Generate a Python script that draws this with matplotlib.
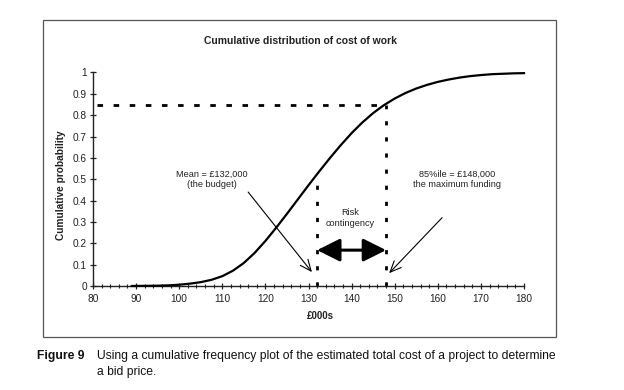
import matplotlib
matplotlib.use("Agg")
import matplotlib.pyplot as plt
from matplotlib.patches import Rectangle
from matplotlib.ticker import MultipleLocator

plt.rcParams['font.family'] = ['Liberation Sans', 'DejaVu Sans']

# Data
cost = [89, 95, 97.5, 100, 102.5, 105, 107.5, 110, 112.5, 115, 117.5, 120, 122.5,
        125, 127.5, 130, 132.5, 135, 137.5, 140, 142.5, 145, 147.5, 150, 152.5,
        155, 157.5, 160, 162.5, 165, 167.5, 170, 172.5, 175, 177.5, 180]
prob = [0.0, 0.0015, 0.003, 0.006, 0.011, 0.018, 0.029, 0.046, 0.072, 0.108, 0.155,
        0.211, 0.273, 0.338, 0.405, 0.472, 0.537, 0.600, 0.660, 0.716, 0.766, 0.810,
        0.847, 0.878, 0.904, 0.925, 0.942, 0.956, 0.967, 0.976, 0.983, 0.988, 0.992,
        0.994, 0.996, 0.997]
mean_cost = 132
p85_cost = 148
p85 = 0.85
mean_prob = 0.52
xticks = [80, 90, 100, 110, 120, 130, 140, 150, 160, 170, 180]
yticks = [0, 0.1, 0.2, 0.3, 0.4, 0.5, 0.6, 0.7, 0.8, 0.9, 1]
yticklabels = ['0', '0.1', '0.2', '0.3', '0.4', '0.5', '0.6', '0.7', '0.8', '0.9', '1']

W, H = 624, 390
fig = plt.figure(figsize=(W / 100, H / 100), dpi=100)
fig.patch.set_facecolor('white')

# outer frame
fig.patches.append(Rectangle((43 / W, 1 - 337 / H), (556 - 43) / W, (337 - 20) / H,
                             transform=fig.transFigure, fill=False,
                             edgecolor='#555555', linewidth=0.9))

ax = fig.add_axes([93 / W, 1 - 286 / H, (524 - 93) / W, (286 - 72.5) / H])
ax.set_xlim(80, 180)
ax.set_ylim(0, 1)
for s in ['top', 'right']:
    ax.spines[s].set_visible(False)
for s in ['left', 'bottom']:
    ax.spines[s].set_linewidth(1.0)
    ax.spines[s].set_color('#222222')

ax.set_xticks(xticks)
ax.set_xticklabels([str(t) for t in xticks])
ax.set_yticks(yticks)
ax.set_yticklabels(yticklabels)
ax.xaxis.set_minor_locator(MultipleLocator(2))
ax.tick_params(axis='both', which='major', direction='inout', length=5, width=0.9,
               labelsize=7.3, colors='#222222', pad=2)
ax.tick_params(axis='x', which='minor', direction='inout', length=3, width=0.8,
               colors='#222222')
ax.tick_params(axis='x', which='major', pad=3)

# curve
ax.plot(cost, prob, color='black', linewidth=1.6, clip_on=False, zorder=3)

# dashed guide lines
ax.plot([81, p85_cost], [p85, p85], color='black', linewidth=2,
        linestyle=(0, (2, 3.8)), dash_capstyle='butt')
ax.plot([p85_cost, p85_cost], [0, p85], color='black', linewidth=2,
        linestyle=(0, (1.5, 4.3)), dash_capstyle='butt')
ax.plot([mean_cost, mean_cost], [0, mean_prob], color='black', linewidth=2,
        linestyle=(0, (1.5, 4.3)), dash_capstyle='butt')

# annotations
ax.annotate('', xy=(130.8, 0.065), xytext=(116.0, 0.44),
            arrowprops=dict(arrowstyle='->,head_length=0.8,head_width=0.35',
                            color='black', linewidth=0.8, shrinkA=0, shrinkB=0))
ax.text(107.6, 0.50, 'Mean = £132,000\n(the budget)', ha='center', va='center',
        fontsize=6.6, linespacing=1.25, color='#222222')

ax.annotate('', xy=(148.7, 0.06), xytext=(161.0, 0.32),
            arrowprops=dict(arrowstyle='->,head_length=0.8,head_width=0.35',
                            color='black', linewidth=0.8, shrinkA=0, shrinkB=0))
ax.text(164.5, 0.50, '85%ile = £148,000\nthe maximum funding', ha='center',
        va='center', fontsize=6.6, linespacing=1.25, color='#222222')

ax.text(139.6, 0.318, 'Risk\ncontingency', ha='center', va='center', fontsize=6.6,
        linespacing=1.25, color='#222222')
ax.annotate('', xy=(p85_cost, 0.168), xytext=(mean_cost, 0.168),
            arrowprops=dict(arrowstyle='<|-|>,head_length=1.0,head_width=0.5',
                            color='black', linewidth=2.2, shrinkA=0, shrinkB=0,
                            mutation_scale=14))

# titles & labels
fig.text(300 / W, 1 - 41 / H, 'Cumulative distribution of cost of work',
         ha='center', va='center', fontsize=7.5, fontweight='bold', color='#222222')
fig.text(61 / W, 1 - 185 / H, 'Cumulative probability', rotation=90,
         ha='center', va='center', fontsize=7.3, fontweight='bold', color='#222222')
fig.text(320 / W, 1 - 316 / H, '£000s', ha='center', va='center', fontsize=7,
         fontweight='bold', color='#222222')

# caption
cap_family = ['Liberation Sans Narrow', 'Liberation Sans', 'DejaVu Sans']
fig.text(37 / W, 1 - 356 / H, 'Figure 9', ha='left', va='center', fontsize=8.7,
         fontweight='bold', family=cap_family, color='#111111')
fig.text(97 / W, 1 - 356 / H,
         'Using a cumulative frequency plot of the estimated total cost of a project to determine',
         ha='left', va='center', fontsize=8.7, family=cap_family, color='#111111')
fig.text(97 / W, 1 - 372 / H, 'a bid price.', ha='left', va='center', fontsize=8.7,
         family=cap_family, color='#111111')

fig.savefig('out.png', dpi=100, facecolor='white')
